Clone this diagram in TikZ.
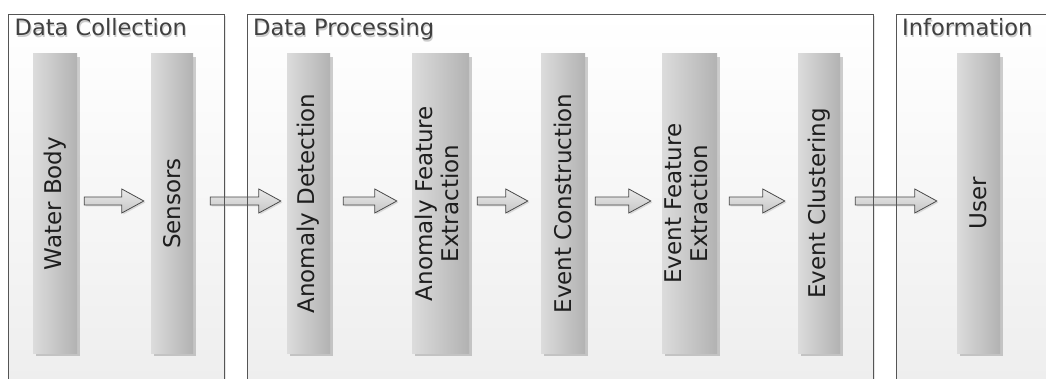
\documentclass[tikz,border=0pt]{standalone}
\usepackage{fontspec}
\setmainfont{DejaVu Sans}
\usepackage{graphicx}
\usetikzlibrary{calc,shadows}

\definecolor{framebd}{HTML}{555555}
\definecolor{titletext}{HTML}{404040}
\definecolor{bartext}{HTML}{1E1E1E}
\definecolor{barlight}{HTML}{DCDCDC}
\definecolor{bardark}{HTML}{B2B2B2}
\definecolor{arrowtop}{HTML}{EAEAEA}
\definecolor{arrowbot}{HTML}{C6C6C6}
\definecolor{arrowline}{HTML}{4A4A4A}

\tikzset{
  stage/.style={inner sep=0pt, draw=none, minimum height=299,
    left color=barlight, right color=bardark, text=bartext,
    font=\fontsize{23}{25.5}\selectfont,
    drop shadow={shadow xshift=3pt, shadow yshift=-3pt, opacity=.35, fill=black!55}},
  grouptitle/.style={inner sep=0pt, anchor=base west, text=titletext,
    font=\fontsize{22.5}{25}\selectfont},
  titleshade/.style={grouptitle, text=black!20},
  groupfill/.style={top color=white, bottom color=black!7, draw=none},
  groupline/.style={draw=framebd, line width=0.8pt},
  flow/.style={draw=arrowline, line width=0.8pt, top color=arrowtop,
    bottom color=arrowbot, line join=miter},
}

% block arrow between two stages: #1 from, #2 to, #3 start gap, #4 end gap
\newcommand\flowarrow[4]{%
  \fill[black!15] let \p1=($(#1.east)+(#3+1.5,-1)$), \p2=($(#2.west)+(-#4+1.5,-1)$) in
    (\x1,\y1+4pt) -- (\x2-22pt,\y1+4pt) -- (\x2-22pt,\y1+12pt) -- (\x2,\y1)
    -- (\x2-22pt,\y1-12pt) -- (\x2-22pt,\y1-4pt) -- (\x1,\y1-4pt) -- cycle;
  \path[flow] let \p1=($(#1.east)+(#3,-2.5)$), \p2=($(#2.west)+(-#4,-2.5)$) in
    (\x1,\y1+4pt) -- (\x2-22pt,\y1+4pt) -- (\x2-22pt,\y1+12pt) -- (\x2,\y1)
    -- (\x2-22pt,\y1-12pt) -- (\x2-22pt,\y1-4pt) -- (\x1,\y1-4pt) -- cycle;
}

\begin{document}
\begin{tikzpicture}[x=1pt,y=-1pt]
\useasboundingbox (0,0) rectangle (1046,379);
\begin{scope}
  \clip (0,0) rectangle (1046,379);
  % group panels
  \foreach \l/\r in {8/224, 247/873, 896/1070}{
    \fill[black!10] (\l+2,16) rectangle (\r+2,400);
    \path[groupfill] (\l,14) rectangle (\r,400);
  }

  % titles
  \node[titleshade] (dcs) at (15.5,37.5) {Data Collection};
  \node[grouptitle] (dc) at (14.5,36) {Data Collection};
  \node[titleshade] (dps) at (254,37.5) {Data Processing};
  \node[grouptitle] (dp) at (253,36) {Data Processing};
  \node[titleshade] (ins) at (903,37.5) {Information};
  \node[grouptitle] (inf) at (902,36) {Information};

  % stages
  \node[stage, minimum width=44] (wb)  at (55,203.5)    {\rotatebox{90}{Water Body}};
  \node[stage, minimum width=42] (sn)  at (172,203.5)   {\rotatebox{90}{Sensors}};
  \node[stage, minimum width=43] (ad)  at (308.5,203.5) {\rotatebox{90}{Anomaly Detection}};
  \node[stage, minimum width=57] (afe) at (440.5,203.5) {\rotatebox{90}{\begin{tabular}{@{}c@{}}Anomaly Feature\\Extraction\end{tabular}}};
  \node[stage, minimum width=44] (ec)  at (563,203.5)   {\rotatebox{90}{Event Construction}};
  \node[stage, minimum width=55] (efe) at (689.5,203.5) {\rotatebox{90}{\begin{tabular}{@{}c@{}}Event Feature\\Extraction\end{tabular}}};
  \node[stage, minimum width=42] (ecl) at (819,203.5)   {\rotatebox{90}{Event Clustering}};
  \node[stage, minimum width=43] (usr) at (978.5,203.5) {\rotatebox{90}{User}};

  % flow between stages
  \flowarrow{wb}{sn}{7}{7}
  \flowarrow{sn}{ad}{17}{6}
  \flowarrow{ad}{afe}{13}{15}
  \flowarrow{afe}{ec}{8}{13}
  \flowarrow{ec}{efe}{10}{11}
  \flowarrow{efe}{ecl}{12}{13}
  \flowarrow{ecl}{usr}{15}{20}

  % panel outlines over the arrows
  \foreach \l/\r in {8/224, 247/873, 896/1070}{
    \path[groupline] (\l,14) rectangle (\r,400);
  }
\end{scope}
\end{tikzpicture}
\end{document}
